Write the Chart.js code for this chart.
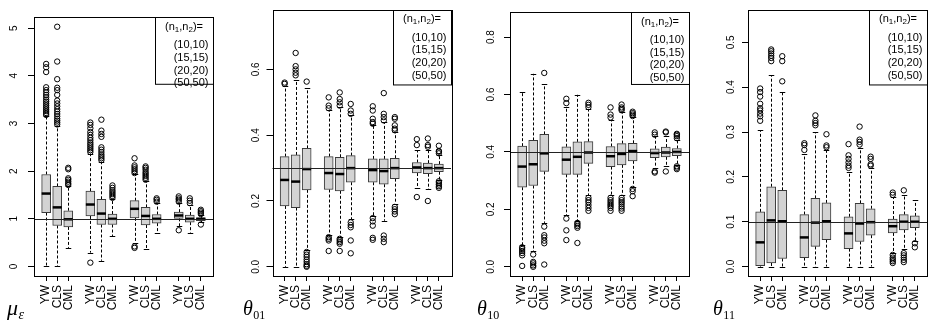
<!DOCTYPE html>
<html><head><meta charset="utf-8">
<script src="https://cdn.jsdelivr.net/npm/chart.js@4.4.1/dist/chart.umd.min.js"></script>
<style>
html,body{margin:0;padding:0;background:#fff;}
#wrap{position:relative;width:934px;height:327px;overflow:hidden;background:#fff;}
canvas{position:absolute;top:0;}
</style></head><body><div id="wrap"></div>
<script>
const methods = ["YW", "CLS", "CML"];
const sampleSizes = ["(10,10)", "(15,15)", "(20,20)", "(50,50)"];
const positions = [1, 2, 3, 5, 6, 7, 9, 10, 11, 13, 14, 15];

// ---- mu_epsilon ----
const muLo  = [0.02, 0.00, 0.39,  0.29, 0.12, 0.64,  0.50, 0.37, 0.71,  0.85, 0.71, 0.93];
const muQ1  = [1.13, 0.86, 0.83,  1.06, 0.88, 0.88,  1.02, 0.87, 0.91,  1.01, 0.93, 0.96];
const muMed = [1.53, 1.24, 0.99,  1.30, 1.11, 1.00,  1.21, 1.06, 1.00,  1.07, 1.00, 1.00];
const muQ3  = [1.93, 1.68, 1.17,  1.58, 1.41, 1.10,  1.38, 1.24, 1.09,  1.14, 1.08, 1.02];
const muHi  = [3.15, 2.95, 1.68,  2.37, 2.20, 1.42,  1.93, 1.79, 1.33,  1.33, 1.29, 1.08];
const muOut = [
  [3.18, 3.22, 3.26, 3.30, 3.34, 3.38, 3.42, 3.46, 3.50, 3.55, 3.60, 3.65, 3.70, 3.76, 4.08, 4.18, 4.25],
  [2.98, 3.02, 3.06, 3.10, 3.15, 3.20, 3.25, 3.30, 3.36, 3.42, 3.48, 3.60, 3.70, 3.75, 3.93, 4.30, 5.03],
  [1.71, 1.74, 1.78, 1.82, 1.85, 2.04, 2.07],
  [0.08, 2.40, 2.44, 2.48, 2.52, 2.56, 2.60, 2.65, 2.70, 2.76, 2.82, 2.90, 2.97, 3.02],
  [2.23, 2.27, 2.31, 2.35, 2.40, 2.45, 2.50, 2.72, 2.78, 2.85, 3.08],
  [1.44, 1.48, 1.52, 1.56, 1.60, 1.65, 1.70],
  [0.39, 0.42, 1.96, 2.00, 2.04, 2.08, 2.12, 2.27],
  [1.82, 1.86, 1.90, 1.94, 1.98, 2.03, 2.07, 2.10],
  [1.36, 1.40, 1.43],
  [0.76, 1.36, 1.40, 1.43, 1.47],
  [1.33, 1.38, 1.43],
  [0.88, 1.10, 1.13, 1.16, 1.19]
];
const muTicks = [0, 1, 2, 3, 4, 5];
const muTickLabels = ["0", "1", "2", "3", "4", "5"];
const muTrue = 1;

// ---- theta_01 ----
const t01Lo  = [0.000, 0.000, 0.050,  0.098, 0.090, 0.145,  0.155, 0.140, 0.192,  0.240, 0.235, 0.265];
const t01Q1  = [0.185, 0.180, 0.234,  0.235, 0.231, 0.257,  0.257, 0.251, 0.268,  0.285, 0.283, 0.289];
const t01Med = [0.264, 0.259, 0.297,  0.285, 0.282, 0.300,  0.294, 0.291, 0.300,  0.302, 0.300, 0.300];
const t01Q3  = [0.335, 0.340, 0.360,  0.335, 0.333, 0.338,  0.328, 0.328, 0.330,  0.317, 0.315, 0.312];
const t01Hi  = [0.550, 0.568, 0.542,  0.478, 0.485, 0.460,  0.430, 0.440, 0.410,  0.355, 0.355, 0.340];
const t01Out = [
  [0.556, 0.560],
  [0.582, 0.590, 0.600, 0.610, 0.650],
  [0.000, 0.003, 0.008, 0.015, 0.022, 0.030, 0.037, 0.045, 0.563],
  [0.048, 0.080, 0.085, 0.090, 0.482, 0.490, 0.515],
  [0.048, 0.070, 0.075, 0.080, 0.085, 0.490, 0.500, 0.510, 0.530],
  [0.041, 0.080, 0.120, 0.127, 0.135, 0.465, 0.475, 0.495],
  [0.082, 0.088, 0.125, 0.138, 0.148, 0.435, 0.440, 0.450, 0.475, 0.488],
  [0.075, 0.085, 0.095, 0.445, 0.455, 0.465, 0.528],
  [0.160, 0.168, 0.175, 0.182, 0.415, 0.420, 0.430, 0.450, 0.455],
  [0.212, 0.370, 0.388],
  [0.200, 0.365, 0.370, 0.390],
  [0.240, 0.245, 0.250, 0.255, 0.260, 0.345, 0.350, 0.352, 0.368]
];
const t01Ticks = [0, 0.2, 0.4, 0.6];
const t01TickLabels = ["0.0", "0.2", "0.4", "0.6"];
const t01True = 0.3;

// ---- theta_10 ----
const t10Lo  = [0.075, 0.055, 0.153,  0.180, 0.159, 0.250,  0.250, 0.250, 0.278,  0.345, 0.350, 0.355];
const t10Q1  = [0.277, 0.283, 0.332,  0.322, 0.322, 0.360,  0.349, 0.355, 0.369,  0.380, 0.383, 0.387];
const t10Med = [0.349, 0.357, 0.395,  0.373, 0.383, 0.398,  0.385, 0.393, 0.403,  0.396, 0.398, 0.400];
const t10Q3  = [0.420, 0.440, 0.461,  0.418, 0.435, 0.436,  0.419, 0.429, 0.430,  0.411, 0.417, 0.412];
const t10Hi  = [0.610, 0.672, 0.636,  0.556, 0.599, 0.550,  0.510, 0.540, 0.520,  0.455, 0.455, 0.440];
const t10Out = [
  [0.003, 0.040, 0.048, 0.055, 0.062, 0.068],
  [0.000, 0.005, 0.012, 0.017, 0.043],
  [0.008, 0.082, 0.091, 0.102, 0.110, 0.140, 0.675],
  [0.093, 0.127, 0.168, 0.570, 0.585],
  [0.083, 0.136, 0.142, 0.148, 0.153],
  [0.195, 0.205, 0.215, 0.225, 0.232, 0.240, 0.556, 0.564, 0.571],
  [0.195, 0.205, 0.212, 0.218, 0.225, 0.232, 0.240, 0.520, 0.530, 0.555],
  [0.195, 0.203, 0.210, 0.218, 0.225, 0.232, 0.240, 0.545, 0.550, 0.555, 0.565],
  [0.246, 0.263, 0.271, 0.525, 0.530, 0.535, 0.540],
  [0.328, 0.332, 0.460, 0.468],
  [0.332, 0.468, 0.471],
  [0.340, 0.345, 0.350, 0.448, 0.455, 0.460, 0.463]
];
const t10Ticks = [0, 0.2, 0.4, 0.6, 0.8];
const t10TickLabels = ["0.0", "0.2", "0.4", "0.6", "0.8"];
const t10True = 0.4;

// ---- theta_11 ----
const t11Lo  = [0.000, 0.000, 0.000,  0.000, 0.000, 0.000,  0.000, 0.000, 0.000,  0.030, 0.040, 0.058];
const t11Q1  = [0.002, 0.008, 0.018,  0.020, 0.045, 0.060,  0.040, 0.056, 0.070,  0.075, 0.082, 0.087];
const t11Med = [0.054, 0.103, 0.101,  0.065, 0.098, 0.101,  0.074, 0.096, 0.099,  0.090, 0.100, 0.100];
const t11Q3  = [0.122, 0.178, 0.170,  0.116, 0.152, 0.142,  0.111, 0.141, 0.129,  0.106, 0.116, 0.113];
const t11Hi  = [0.304, 0.427, 0.390,  0.250, 0.300, 0.260,  0.210, 0.265, 0.220,  0.155, 0.160, 0.148];
const t11Out = [
  [0.325, 0.335, 0.341, 0.348, 0.353, 0.363, 0.379, 0.389, 0.397],
  [0.458, 0.465, 0.470, 0.475, 0.480, 0.484],
  [0.413, 0.458, 0.469],
  [0.260, 0.271, 0.275],
  [0.315, 0.320, 0.325, 0.337],
  [0.266, 0.270, 0.295],
  [0.220, 0.225, 0.232, 0.240, 0.248, 0.273],
  [0.272, 0.278, 0.283, 0.312],
  [0.225, 0.228, 0.240, 0.245],
  [0.008, 0.012, 0.016, 0.020, 0.026, 0.160, 0.165],
  [0.010, 0.015, 0.020, 0.025, 0.030, 0.170],
  [0.043, 0.052]
];
const t11Ticks = [0, 0.1, 0.2, 0.3, 0.4, 0.5];
const t11TickLabels = ["0.0", "0.1", "0.2", "0.3", "0.4", "0.5"];
const t11True = 0.1;

// ---- layout of the four panels ----
const H = 327;
const panels = [
  {id: 'mu',  lo: muLo,  q1: muQ1,  med: muMed,  q3: muQ3,  hi: muHi,  out: muOut,  ticks: muTicks,  tickLabels: muTickLabels,  ref: muTrue,
   yMin: -0.2, yMax: 5.23, sym: 'μ', sub: 'ε', subItalic: true,
   left: 0, width: 234, areaLeft: 34, areaRight: 213, labelDist: 20, mathX: 7},
  {id: 't01', lo: t01Lo, q1: t01Q1, med: t01Med, q3: t01Q3, hi: t01Hi, out: t01Out, ticks: t01Ticks, tickLabels: t01TickLabels, ref: t01True,
   yMin: -0.028, yMax: 0.782, sym: 'θ', sub: '01', subItalic: false,
   left: 234, width: 234, areaLeft: 38.5, areaRight: 217, labelDist: 16.5, mathX: 9},
  {id: 't10', lo: t10Lo, q1: t10Q1, med: t10Med, q3: t10Q3, hi: t10Hi, out: t10Out, ticks: t10Ticks, tickLabels: t10TickLabels, ref: t10True,
   yMin: -0.032, yMax: 0.887, sym: 'θ', sub: '10', subItalic: false,
   left: 468, width: 234, areaLeft: 42, areaRight: 221, labelDist: 19, mathX: 9},
  {id: 't11', lo: t11Lo, q1: t11Q1, med: t11Med, q3: t11Q3, hi: t11Hi, out: t11Out, ticks: t11Ticks, tickLabels: t11TickLabels, ref: t11True,
   yMin: -0.021, yMax: 0.573, sym: 'θ', sub: '11', subItalic: false,
   left: 702, width: 232, areaLeft: 46, areaRight: 225, labelDist: 16.5, mathX: 11}
];

const SANS = '"Liberation Sans", Arial, Helvetica, sans-serif';
const SERIF = '"Liberation Serif", "Times New Roman", serif';
const BOX_W = 9;

function drawLegend(ctx, area) {
  const bw = 58, bh = 84 - area.top;
  const bx = area.right - bw, by = area.top;
  ctx.save();
  ctx.fillStyle = '#fff';
  ctx.fillRect(bx, by, bw, bh);
  ctx.strokeStyle = '#000'; ctx.lineWidth = 1;
  ctx.strokeRect(Math.round(bx) + 0.5, Math.round(by) + 0.5, bw, bh);
  ctx.fillStyle = '#000';
  ctx.textBaseline = 'middle';
  const segs = [['(n', false], ['1', true], [',n', false], ['2', true], [')=', false]];
  const fN = '11px ' + SANS, fS = '8px ' + SANS;
  let tw = 0;
  segs.forEach(s => { ctx.font = s[1] ? fS : fN; tw += ctx.measureText(s[0]).width; });
  let cx = bx + bw / 2 - tw / 2;
  const ty = by + 9.5;
  ctx.textAlign = 'left';
  segs.forEach(s => {
    ctx.font = s[1] ? fS : fN;
    ctx.fillText(s[0], cx, s[1] ? ty + 3 : ty);
    cx += ctx.measureText(s[0]).width;
  });
  ctx.font = fN;
  ctx.textAlign = 'right';
  sampleSizes.forEach((t, i) => ctx.fillText(t, area.right - 4.5, by + 28 + i * 12.7));
  ctx.restore();
}

function makePlugin(p) {
  return {
    id: 'boxExtras_' + p.id,
    beforeDatasetsDraw(chart) {
      const {ctx, scales: {x, y}} = chart;
      ctx.save();
      ctx.strokeStyle = '#000';
      ctx.lineWidth = 1;
      positions.forEach((pos, i) => {
        const px = Math.round(x.getPixelForValue(pos)) + 0.5;
        ctx.setLineDash([3, 2]);
        ctx.beginPath();
        ctx.moveTo(px, y.getPixelForValue(p.q3[i]));
        ctx.lineTo(px, y.getPixelForValue(p.hi[i]));
        ctx.moveTo(px, y.getPixelForValue(p.q1[i]));
        ctx.lineTo(px, y.getPixelForValue(p.lo[i]));
        ctx.stroke();
        ctx.setLineDash([]);
        ctx.beginPath();
        const yh = Math.round(y.getPixelForValue(p.hi[i])) + 0.5;
        const yl = Math.round(y.getPixelForValue(p.lo[i])) + 0.5;
        ctx.moveTo(px - BOX_W / 4 - 0.5, yh); ctx.lineTo(px + BOX_W / 4 + 0.5, yh);
        ctx.moveTo(px - BOX_W / 4 - 0.5, yl); ctx.lineTo(px + BOX_W / 4 + 0.5, yl);
        ctx.stroke();
      });
      ctx.restore();
    },
    afterDatasetsDraw(chart) {
      const {ctx, chartArea: a, scales: {x, y}} = chart;
      ctx.save();
      ctx.strokeStyle = '#000';
      ctx.lineWidth = 2.5;
      ctx.lineCap = 'butt';
      positions.forEach((pos, i) => {
        const px = x.getPixelForValue(pos);
        const py = y.getPixelForValue(p.med[i]);
        ctx.beginPath();
        ctx.moveTo(px - BOX_W / 2, py); ctx.lineTo(px + BOX_W / 2, py);
        ctx.stroke();
      });
      ctx.strokeStyle = '#222';
      ctx.lineWidth = 1;
      const ry = Math.round(y.getPixelForValue(p.ref)) + 0.5;
      ctx.beginPath(); ctx.moveTo(a.left, ry); ctx.lineTo(a.right, ry); ctx.stroke();
      ctx.strokeStyle = '#000';
      ctx.strokeRect(Math.round(a.left) + 0.5, Math.round(a.top) + 0.5, Math.round(a.right - a.left), Math.round(a.bottom - a.top));
      ctx.restore();
      drawLegend(ctx, a);
    },
    afterDraw(chart) {
      const ctx = chart.ctx;
      ctx.save();
      ctx.fillStyle = '#000';
      ctx.textBaseline = 'alphabetic';
      ctx.textAlign = 'left';
      const mainFont = p.id === 'mu' ? 'italic 22px ' + SERIF : 'italic 20px ' + SERIF;
      ctx.font = mainFont;
      ctx.fillText(p.sym, p.mathX, 315);
      const w = ctx.measureText(p.sym).width;
      ctx.font = (p.subItalic ? 'italic 14px ' : '12px ') + SERIF;
      ctx.fillText(p.sub, p.mathX + w + 0.5, 319);
      ctx.restore();
    }
  };
}

const wrap = document.getElementById('wrap');

function makeChart(p) {
  const c = document.createElement('canvas');
  c.width = p.width; c.height = H;
  c.style.left = p.left + 'px';
  c.style.width = p.width + 'px';
  c.style.height = H + 'px';
  wrap.appendChild(c);
  const mctx = c.getContext('2d');
  mctx.font = '10px ' + SANS;
  const widest = Math.max(...p.tickLabels.map(t => mctx.measureText(t).width));
  const yPad = Math.max(0, p.labelDist - 6 - widest / 2);
  const boxData = positions.map((xv, i) => ({x: xv, y: [p.q1[i], p.q3[i]]}));
  const outData = [];
  p.out.forEach((arr, i) => arr.forEach(v => outData.push({x: positions[i], y: v})));
  return new Chart(c, {
    type: 'bar',
    data: {
      datasets: [
        {type: 'bar', data: boxData, backgroundColor: '#d3d3d3', borderColor: '#3a3a3a', borderWidth: 1,
         borderSkipped: false, barThickness: BOX_W, order: 2},
        {type: 'scatter', data: outData, pointStyle: 'circle', pointRadius: 2.7, pointBorderWidth: 1,
         pointBorderColor: '#000', pointBackgroundColor: 'rgba(0,0,0,0)', showLine: false, order: 1}
      ]
    },
    options: {
      responsive: false, animation: false, devicePixelRatio: 1,
      layout: {padding: {left: 0, right: p.width - p.areaRight, top: 6, bottom: 0}},
      plugins: {legend: {display: false}, tooltip: {enabled: false}},
      scales: {
        x: {
          type: 'linear', min: -0.1, max: 16.1, offset: false,
          afterBuildTicks: s => { s.ticks = positions.map(v => ({value: v})); },
          afterFit: s => { s.height = H - 276; },
          ticks: {autoSkip: false, minRotation: 90, maxRotation: 90, padding: 4, color: '#000',
                  font: {family: SANS, size: 12}, callback: (v, i) => methods[i % 3]},
          grid: {display: true, offset: false, drawOnChartArea: false, drawTicks: true, tickLength: 5, color: '#000', lineWidth: 1},
          border: {display: false}
        },
        y: {
          type: 'linear', min: p.yMin, max: p.yMax,
          afterBuildTicks: s => { s.ticks = p.ticks.map(v => ({value: v})); },
          afterFit: s => { s.width = p.areaLeft; },
          ticks: {autoSkip: false, minRotation: 90, maxRotation: 90, crossAlign: 'center', padding: yPad, color: '#000',
                  font: {family: SANS, size: 10}, callback: (v, i) => p.tickLabels[i]},
          grid: {display: true, drawOnChartArea: false, drawTicks: true, tickLength: 6, color: '#000', lineWidth: 1},
          border: {display: false}
        }
      }
    },
    plugins: [makePlugin(p)]
  });
}

panels.forEach(makeChart);
</script>
</body></html>
